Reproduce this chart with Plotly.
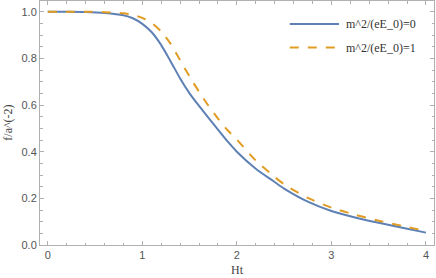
import plotly.graph_objects as go

ht = [0.0, 0.2, 0.4, 0.6, 0.8, 0.9, 1.0, 1.1, 1.2, 1.3, 1.4, 1.5, 1.6, 1.7, 1.8, 1.9, 2.0,
      2.2, 2.4, 2.5, 2.75, 3.0, 3.25, 3.5, 3.75, 4.0]
f_m0 = [1.0, 1.0, 0.999, 0.995, 0.985, 0.972, 0.948, 0.912, 0.857, 0.787, 0.714, 0.650,
        0.596, 0.545, 0.495, 0.445, 0.40, 0.327, 0.27, 0.242, 0.186, 0.146, 0.118, 0.095,
        0.074, 0.053]
f_m1 = [1.0, 1.0, 1.0, 0.998, 0.993, 0.986, 0.974, 0.952, 0.915, 0.862, 0.792, 0.722, 0.657,
        0.597, 0.542, 0.493, 0.452, 0.362, 0.292, 0.26, 0.202, 0.16, 0.13, 0.104, 0.082,
        0.06]
names = ["m^2/(eE_0)=0", "m^2/(eE_0)=1"]
colors = ["#5E81B5", "#E19C24"]
dashes = ["solid", "dash"]

fig = go.Figure()
for yv, nm, c, d in zip([f_m0, f_m1], names, colors, dashes):
    fig.add_trace(go.Scatter(x=ht, y=yv, mode="lines", name=nm, showlegend=False,
                             line=dict(color=c, width=2, dash=d, shape="spline", smoothing=0.7)))

serif = "Liberation Serif, Times New Roman, serif"
# legend drawn as decoration in paper coordinates
leg_y = [0.906, 0.809]
for nm, c, d, yy in zip(names, colors, dashes, leg_y):
    fig.add_shape(type="line", xref="paper", yref="paper", x0=0.634, x1=0.759, y0=yy, y1=yy,
                  line=dict(color=c, width=2, dash=d))
    fig.add_annotation(xref="paper", yref="paper", x=0.772, y=yy, text=nm, showarrow=False,
                       xanchor="left", yanchor="middle",
                       font=dict(family=serif, size=12, color="#333333"))

fig.add_annotation(xref="paper", yref="paper", x=0.5, y=-0.104, text="Ht", showarrow=False,
                   xanchor="center", yanchor="middle", font=dict(family=serif, size=12, color="#444444"))
fig.add_annotation(xref="paper", yref="paper", x=-0.082, y=0.5, text="f/a^(-2)", showarrow=False,
                   textangle=-90, xanchor="center", yanchor="middle",
                   font=dict(family=serif, size=12, color="#444444"))

axcol = "#b0b0b0"
tickfont = dict(family="Liberation Sans, Arial, sans-serif", size=11, color="#555555")
fig.update_layout(
    width=436, height=278,
    margin=dict(l=40, r=2, t=1, b=33, autoexpand=False),
    plot_bgcolor="white", paper_bgcolor="white",
    showlegend=False,
    xaxis=dict(range=[-0.082, 4.085], showgrid=False, zeroline=False, automargin=False,
               showline=True, linecolor=axcol, linewidth=1, mirror="ticks",
               ticks="inside", ticklen=4, tickcolor=axcol, tickwidth=1,
               tickvals=[0, 1, 2, 3, 4], tickfont=tickfont,
               minor=dict(tickvals=[0.2*i for i in range(21)], ticks="inside", ticklen=2.5, tickcolor=axcol)),
    yaxis=dict(range=[0, 1.046], showgrid=False, zeroline=False, automargin=False,
               showline=True, linecolor=axcol, linewidth=1, mirror="ticks",
               ticks="inside", ticklen=4, tickcolor=axcol, tickwidth=1,
               tickvals=[0, 0.2, 0.4, 0.6, 0.8, 1.0], ticktext=["0.0", "0.2", "0.4", "0.6", "0.8", "1.0"],
               tickfont=tickfont,
               minor=dict(tickvals=[0.05*i for i in range(21)], ticks="inside", ticklen=2.5, tickcolor=axcol)),
)
fig.write_html("out.html", config={"displayModeBar": False, "staticPlot": True},
               post_script="document.body.style.margin='0';document.body.style.overflow='hidden';")
